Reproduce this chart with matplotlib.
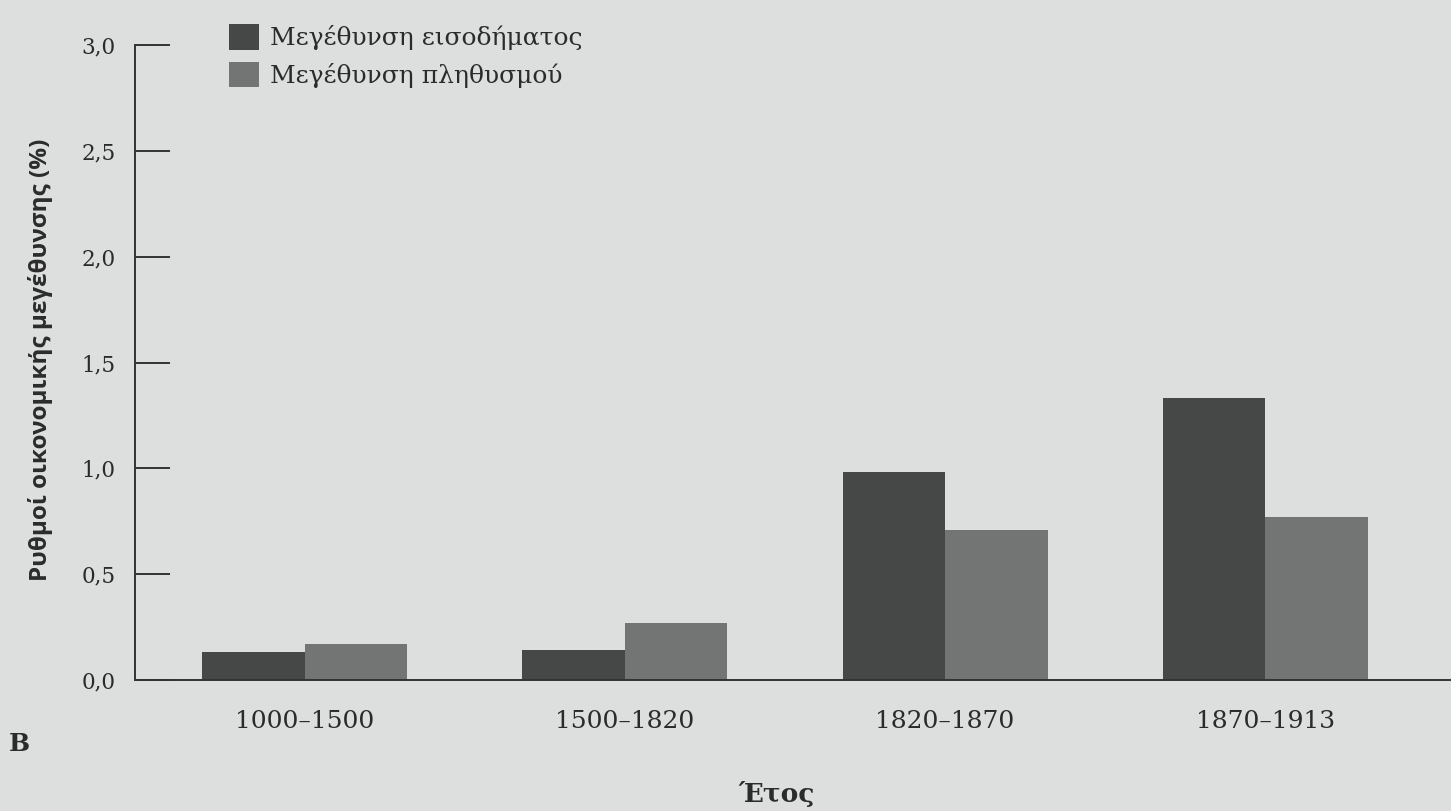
import numpy as np
import matplotlib.pyplot as plt

periods = ["1000–1500", "1500–1820", "1820–1870", "1870–1913"]
income_growth = [0.13, 0.14, 0.98, 1.33]
population_growth = [0.17, 0.27, 0.71, 0.77]

serif = ["DejaVu Serif"]
bg = "#dcdfde"
dark = "#454847"
light = "#737574"
ink = "#2b2b2b"

fig = plt.figure(figsize=(14.51, 8.11), dpi=100, facecolor=bg)
ax = fig.add_axes([0.093, 0.162, 0.907, 0.782], facecolor=bg)

x = np.arange(len(periods))
w = 0.32
ax.bar(x - w / 2, income_growth, w, color=dark, label="Μεγέθυνση εισοδήματος")
ax.bar(x + w / 2, population_growth, w, color=light, label="Μεγέθυνση πληθυσμού")

ax.set_xlim(-0.53, 3.58)
ax.set_ylim(0, 3.0)
yt = np.arange(0, 3.01, 0.5)
ax.set_yticks(yt)
ax.set_yticklabels([f"{v:.1f}".replace(".", ",") for v in yt],
                   family=serif, fontsize=15.5, color=ink)
ax.tick_params(axis="y", direction="in", length=25, width=1.4, color="#333333", pad=14)
ax.set_xticks(x)
ax.set_xticklabels(periods, family=serif, fontsize=18, color=ink)
ax.tick_params(axis="x", length=0, pad=22)

for s in ["top", "right"]:
    ax.spines[s].set_visible(False)
for s in ["left", "bottom"]:
    ax.spines[s].set_linewidth(1.4)
    ax.spines[s].set_color("#333333")

fig.text(0.028, 0.556, "Ρυθμοί οικονομικής μεγέθυνσης (%)", rotation=90,
         ha="center", va="center", fontsize=17.5, fontweight="bold",
         family=["Open Sans", "DejaVu Sans"], color=ink)
fig.text(0.535, 0.005, "Έτος", ha="center", va="bottom", fontsize=19,
         fontweight="bold", family=serif, color=ink)
fig.text(0.006, 0.068, "B", ha="left", va="bottom", fontsize=18,
         fontweight="bold", family=serif, color=ink)

fig.legend(loc="upper left", bbox_to_anchor=(0.142, 0.998), frameon=False,
           prop={"family": serif, "size": 18}, handlelength=1.2, handleheight=1.2,
           handletextpad=0.45, labelspacing=0.45, labelcolor=ink)

fig.savefig("out.png", dpi=100, facecolor=bg)
